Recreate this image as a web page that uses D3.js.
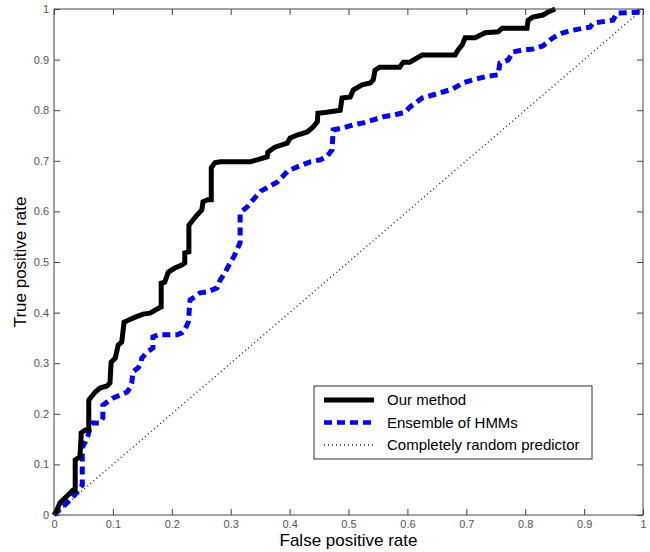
<!DOCTYPE html>
<html lang="en">
<head>
<meta charset="utf-8">
<title>ROC curves</title>
<script src="https://d3js.org/d3.v7.min.js"></script>
<style>
  body { margin: 0; background: #fff; }
  svg { font-family: "Liberation Sans", Arial, sans-serif; }
  .tick text { fill: #555; font-size: 11px; }
  .tick line { stroke: #444; }
</style>
</head>
<body>
<script>
// values
var tickValues = [0, 0.1, 0.2, 0.3, 0.4, 0.5, 0.6, 0.7, 0.8, 0.9, 1];

var seriesNames = ["Our method", "Ensemble of HMMs", "Completely random predictor"];

var ourFpr = [0, 0.005, 0.01, 0.019, 0.027, 0.032, 0.036, 0.036, 0.044, 0.046, 0.046, 0.053, 0.059, 0.059,
  0.070, 0.078, 0.090, 0.095, 0.097, 0.104, 0.109, 0.115, 0.119, 0.126, 0.138, 0.151, 0.163, 0.175, 0.182,
  0.182, 0.188, 0.194, 0.205, 0.217, 0.222, 0.222, 0.229, 0.229, 0.236, 0.243, 0.251, 0.253, 0.261, 0.267,
  0.267, 0.273, 0.282, 0.333, 0.345, 0.362, 0.363, 0.375, 0.396, 0.401, 0.413, 0.430, 0.440, 0.447, 0.448,
  0.463, 0.486, 0.489, 0.503, 0.508, 0.523, 0.537, 0.542, 0.545, 0.553, 0.587, 0.593, 0.604, 0.625, 0.681,
  0.686, 0.693, 0.698, 0.715, 0.732, 0.754, 0.761, 0.803, 0.805, 0.813, 0.830, 0.839, 0.851];
var ourTpr = [0, 0.010, 0.024, 0.034, 0.043, 0.049, 0.049, 0.109, 0.115, 0.154, 0.162, 0.168, 0.168, 0.227,
  0.243, 0.251, 0.255, 0.261, 0.302, 0.310, 0.336, 0.342, 0.381, 0.385, 0.391, 0.397, 0.399, 0.407, 0.411,
  0.458, 0.460, 0.480, 0.488, 0.494, 0.498, 0.518, 0.520, 0.573, 0.583, 0.593, 0.603, 0.619, 0.623, 0.623,
  0.686, 0.696, 0.698, 0.698, 0.702, 0.708, 0.717, 0.727, 0.735, 0.745, 0.751, 0.757, 0.767, 0.777, 0.794,
  0.796, 0.800, 0.824, 0.826, 0.840, 0.850, 0.854, 0.860, 0.879, 0.885, 0.885, 0.895, 0.895, 0.909, 0.909,
  0.919, 0.929, 0.943, 0.943, 0.953, 0.955, 0.962, 0.962, 0.978, 0.984, 0.988, 0.994, 1.0];

var hmmFpr = [0, 0.005, 0.014, 0.022, 0.031, 0.039, 0.048, 0.048, 0.053, 0.058, 0.061, 0.066, 0.078, 0.083,
  0.083, 0.090, 0.100, 0.112, 0.124, 0.129, 0.132, 0.134, 0.143, 0.148, 0.149, 0.158, 0.168, 0.168, 0.177,
  0.209, 0.217, 0.222, 0.228, 0.231, 0.239, 0.248, 0.261, 0.277, 0.282, 0.290, 0.297, 0.306, 0.312, 0.316,
  0.316, 0.328, 0.338, 0.351, 0.367, 0.379, 0.389, 0.397, 0.413, 0.435, 0.452, 0.463, 0.472, 0.474, 0.491,
  0.508, 0.525, 0.542, 0.559, 0.579, 0.596, 0.604, 0.625, 0.643, 0.660, 0.677, 0.694, 0.711, 0.732, 0.754,
  0.757, 0.771, 0.779, 0.796, 0.813, 0.830, 0.847, 0.864, 0.881, 0.898, 0.910, 0.915, 0.949, 0.956, 1.0];
var hmmTpr = [0, 0.006, 0.014, 0.024, 0.034, 0.045, 0.059, 0.134, 0.144, 0.158, 0.174, 0.182, 0.182, 0.192,
  0.217, 0.223, 0.231, 0.237, 0.243, 0.251, 0.261, 0.283, 0.291, 0.302, 0.310, 0.322, 0.330, 0.352, 0.356,
  0.356, 0.360, 0.366, 0.381, 0.425, 0.431, 0.439, 0.441, 0.449, 0.464, 0.478, 0.494, 0.512, 0.528, 0.538,
  0.597, 0.609, 0.623, 0.640, 0.650, 0.658, 0.670, 0.680, 0.688, 0.698, 0.702, 0.708, 0.721, 0.761, 0.765,
  0.771, 0.775, 0.781, 0.787, 0.791, 0.796, 0.806, 0.824, 0.830, 0.836, 0.842, 0.854, 0.860, 0.866, 0.870,
  0.893, 0.899, 0.915, 0.919, 0.921, 0.927, 0.943, 0.953, 0.958, 0.962, 0.964, 0.972, 0.978, 0.992, 0.994];

var randFpr = [0, 1];
var randTpr = [0, 1];

var width = 650, height = 552;
var margin = {top: 9, right: 7, bottom: 37, left: 54};
var w = width - margin.left - margin.right;
var h = height - margin.top - margin.bottom;

var svg = d3.select("body").append("svg")
  .attr("width", width)
  .attr("height", height);

var x = d3.scaleLinear().domain([0, 1]).range([margin.left, margin.left + w]);
var y = d3.scaleLinear().domain([0, 1]).range([margin.top + h, margin.top]);

var fmt = function(d) { return d3.format(".1~f")(d); };

// axes with inward ticks on all four sides
svg.append("g")
  .attr("transform", "translate(0," + (margin.top + h) + ")")
  .call(d3.axisBottom(x).tickValues(tickValues).tickFormat(fmt).tickSizeInner(-6).tickSizeOuter(0).tickPadding(5))
  .call(function(g) { g.select(".domain").remove(); });

svg.append("g")
  .attr("transform", "translate(" + margin.left + ",0)")
  .call(d3.axisLeft(y).tickValues(tickValues).tickFormat(fmt).tickSizeInner(-6).tickSizeOuter(0).tickPadding(5))
  .call(function(g) { g.select(".domain").remove(); });

svg.append("g")
  .attr("transform", "translate(0," + margin.top + ")")
  .call(d3.axisTop(x).tickValues(tickValues).tickFormat("").tickSizeInner(-6).tickSizeOuter(0))
  .call(function(g) { g.select(".domain").remove(); });

svg.append("g")
  .attr("transform", "translate(" + (margin.left + w) + ",0)")
  .call(d3.axisRight(y).tickValues(tickValues).tickFormat("").tickSizeInner(-6).tickSizeOuter(0))
  .call(function(g) { g.select(".domain").remove(); });

var line = d3.line()
  .x(function(d) { return x(d[0]); })
  .y(function(d) { return y(d[1]); });

var styles = [
  {stroke: "#000", width: 5, dash: null},
  {stroke: "#0000ff", width: 5, dash: "8,5"},
  {stroke: "#222", width: 1.4, dash: "1,3"}
];

var series = [d3.zip(ourFpr, ourTpr), d3.zip(hmmFpr, hmmTpr), d3.zip(randFpr, randTpr)];

// random first so the ROC curves are drawn over it
[2, 1, 0].forEach(function(i) {
  svg.append("path")
    .datum(series[i])
    .attr("fill", "none")
    .attr("stroke", styles[i].stroke)
    .attr("stroke-width", styles[i].width)
    .attr("stroke-dasharray", styles[i].dash)
    .attr("stroke-linejoin", "miter")
    .attr("d", line);
});

// box
svg.append("rect")
  .attr("x", margin.left)
  .attr("y", margin.top)
  .attr("width", w)
  .attr("height", h)
  .attr("fill", "none")
  .attr("stroke", "#444")
  .attr("stroke-width", 1);

// legend
var lg = svg.append("g").attr("transform", "translate(314,386)");
lg.append("rect")
  .attr("width", 278)
  .attr("height", 73)
  .attr("fill", "#fff")
  .attr("stroke", "#333");

seriesNames.forEach(function(name, i) {
  var yy = 14 + i * 22.5;
  lg.append("line")
    .attr("x1", 10).attr("x2", 60)
    .attr("y1", yy).attr("y2", yy)
    .attr("stroke", styles[i].stroke)
    .attr("stroke-width", i === 2 ? 1.4 : (i === 1 ? 4.5 : 5))
    .attr("stroke-dasharray", styles[i].dash);
  lg.append("text")
    .attr("x", 73)
    .attr("y", yy)
    .attr("dy", "0.35em")
    .attr("font-size", 15)
    .attr("fill", "#000")
    .text(name);
});

// axis titles
svg.append("text")
  .attr("x", margin.left + w / 2)
  .attr("y", 546)
  .attr("text-anchor", "middle")
  .attr("font-size", 17)
  .attr("fill", "#000")
  .text("False positive rate");

svg.append("text")
  .attr("transform", "translate(26," + (margin.top + h / 2) + ") rotate(-90)")
  .attr("text-anchor", "middle")
  .attr("font-size", 17)
  .attr("fill", "#000")
  .text("True positive rate");
</script>
</body>
</html>
